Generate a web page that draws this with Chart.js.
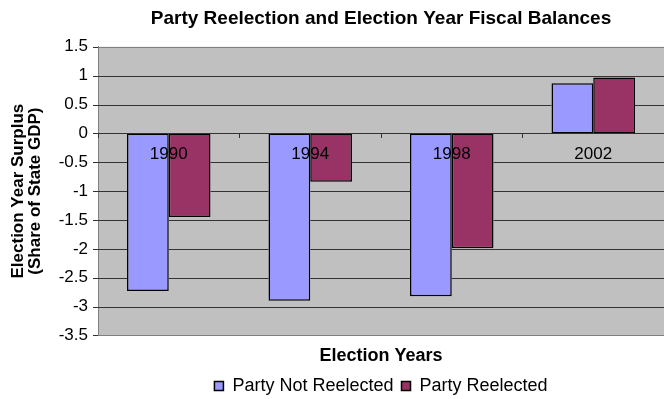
<!DOCTYPE html>
<html>
<head>
<meta charset="utf-8">
<script src="https://cdn.jsdelivr.net/npm/chart.js@4/dist/chart.umd.min.js"></script>
<style>
    body { margin: 0; background: #fff; }
    #wrap { width: 664px; height: 399px; position: relative; }
</style>
</head>
<body>
<div id="wrap"><canvas id="c"></canvas></div>
<script>
// chart data
const years = ['1990', '1994', '1998', '2002'];
const notReelected = [-2.73, -2.90, -2.82, 0.87];
const reelected = [-1.45, -0.84, -1.99, 0.97];
const seriesNames = ['Party Not Reelected', 'Party Reelected'];
const yMin = -3.5, yMax = 1.5, yStep = 0.5;

const fontFam = '"Liberation Sans", Arial, Helvetica, sans-serif';

// grey plot background like the old excel charts
const plotBg = {
    id: 'plotBg',
    beforeDraw(chart) {
        let a = chart.chartArea;
        let ctx = chart.ctx;
        ctx.save();
        ctx.fillStyle = '#c0c0c0';
        ctx.fillRect(a.left, a.top, a.right - a.left, a.bottom - a.top);
        ctx.restore();
    }
};

function gridCol(value) {
    if (value == yMin || value == yMax) return '#808080';
    return '#333333';
}

// horizontal grid lines from the y ticks, kept out of the bars
const yGrid = {
    id: 'yGrid',
    afterDraw(chart) {
        let y = chart.scales.y;
        let a = chart.chartArea;
        let ctx = chart.ctx;
        let bars = [];
        chart.data.datasets.forEach((ds, i) => {
            chart.getDatasetMeta(i).data.forEach(el => {
                let p = el.getProps(['x', 'y', 'base', 'width'], true);
                bars.push({ l: p.x - p.width / 2, r: p.x + p.width / 2, t: Math.min(p.y, p.base), b: Math.max(p.y, p.base) });
            });
        });
        ctx.save();
        ctx.lineWidth = 1;
        y.ticks.forEach(t => {
            let py = Math.round(y.getPixelForValue(t.value)) + 0.5;
            let cuts = bars.filter(b => py > b.t + 1 && py < b.b - 1).sort((m, n) => m.l - n.l);
            ctx.strokeStyle = gridCol(t.value);
            ctx.beginPath();
            let x0 = a.left;
            cuts.forEach(c => {
                if (c.l > x0) { ctx.moveTo(x0, py); ctx.lineTo(c.l, py); }
                x0 = Math.max(x0, c.r);
            });
            if (x0 < a.right) { ctx.moveTo(x0, py); ctx.lineTo(a.right, py); }
            ctx.stroke();
            // small tick mark left of the axis
            ctx.strokeStyle = '#333333';
            ctx.beginPath();
            ctx.moveTo(y.right - 5, py);
            ctx.lineTo(y.right, py);
            ctx.stroke();
        });
        ctx.restore();
    }
};

new Chart(document.getElementById('c'), {
    type: 'bar',
    data: {
        labels: years,
        datasets: [
            { label: seriesNames[0], data: notReelected, backgroundColor: '#9999ff', borderColor: '#000', borderWidth: 1.5, borderSkipped: false },
            { label: seriesNames[1], data: reelected, backgroundColor: '#993366', borderColor: '#000', borderWidth: 1.5, borderSkipped: false }
        ]
    },
    options: {
        responsive: true,
        maintainAspectRatio: false,
        animation: false,
        layout: { padding: { top: 0, bottom: -6, left: 0, right: 0 } },
        datasets: { bar: { barPercentage: 1, categoryPercentage: 0.59 } },
        plugins: {
            title: {
                display: true,
                fullSize: false,
                text: 'Party Reelection and Election Year Fiscal Balances',
                color: '#000',
                font: { family: fontFam, size: 19, weight: 'bold', lineHeight: 1.2 },
                padding: { top: 7, bottom: 17 }
            },
            legend: {
                position: 'bottom',
                fullSize: false,
                labels: {
                    color: '#000',
                    font: { family: fontFam, size: 18 },
                    boxWidth: 9,
                    boxHeight: 9,
                    padding: 8
                }
            },
            tooltip: { enabled: false }
        },
        scales: {
            x: {
                position: { y: 0 },
                grid: { offset: true, drawOnChartArea: false, drawTicks: true, tickLength: 4, color: '#333', z: 1 },
                border: { display: true, color: '#222', z: 1 },
                ticks: { color: '#000', font: { family: fontFam, size: 17 }, padding: 7, z: 2 }
            },
            xb: {
                type: 'category',
                position: 'bottom',
                grid: { display: false, drawTicks: false },
                border: { display: false },
                ticks: { display: false },
                title: {
                    display: true,
                    text: 'Election Years',
                    color: '#000',
                    font: { family: fontFam, size: 18, weight: 'bold', lineHeight: 1.2 },
                    padding: { top: 10, bottom: 2 }
                }
            },
            y: {
                min: yMin,
                max: yMax,
                afterFit(scale) { scale.width = 98; },
                ticks: {
                    stepSize: yStep,
                    color: '#000',
                    font: { family: fontFam, size: 17 },
                    padding: 5,
                    callback: v => String(v)
                },
                grid: { display: false, tickLength: 5 },
                border: { display: true, color: '#808080' },
                title: {
                    display: true,
                    text: ['Election Year Surplus', '(Share of State GDP)'],
                    color: '#000',
                    font: { family: fontFam, size: 17, weight: 'bold', lineHeight: 1 },
                    padding: { top: 10, bottom: 4 }
                }
            }
        }
    },
    plugins: [plotBg, yGrid]
});
</script>
</body>
</html>
